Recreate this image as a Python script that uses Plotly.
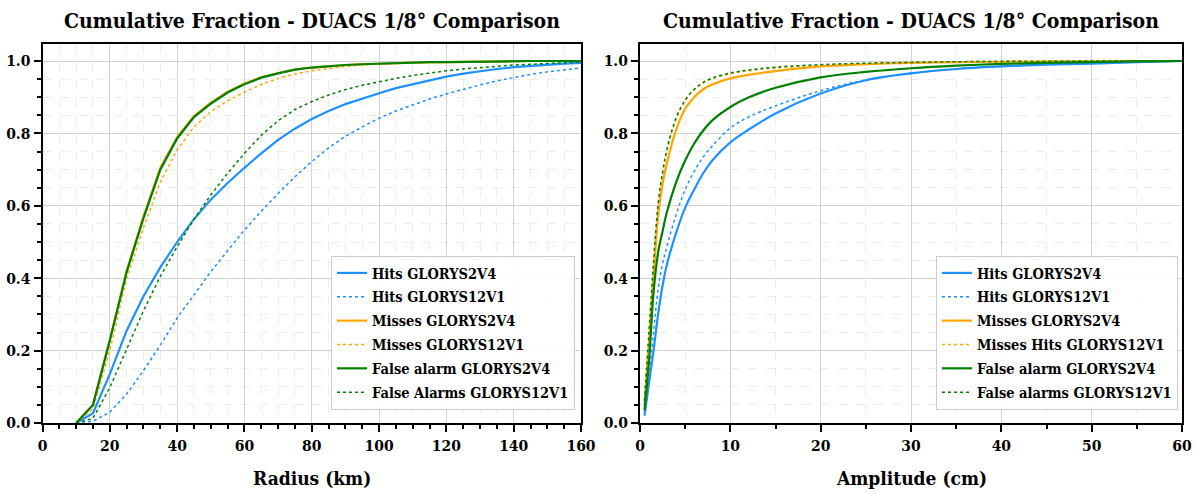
import plotly.graph_objects as go

# ---------------- Data: Radius (km) ----------------
radius = [10, 15, 20, 25, 30, 35, 40, 45, 50, 55, 60, 65, 70, 75, 80, 85, 90, 95, 100,
          105, 110, 115, 120, 125, 130, 135, 140, 145, 150, 155, 160]
r_hits_g2 = [0, 0.027, 0.135, 0.255, 0.35, 0.43, 0.50, 0.563, 0.617, 0.663, 0.705, 0.745, 0.782,
             0.813, 0.84, 0.862, 0.881, 0.897, 0.911, 0.925, 0.936, 0.947, 0.957, 0.965, 0.972,
             0.978, 0.983, 0.987, 0.990, 0.993, 0.995]
r_hits_g12 = [0, 0.005, 0.03, 0.08, 0.145, 0.215, 0.290, 0.355, 0.418, 0.476, 0.533, 0.585, 0.634,
              0.68, 0.722, 0.76, 0.792, 0.818, 0.842, 0.862, 0.879, 0.895, 0.909, 0.922, 0.934,
              0.945, 0.955, 0.963, 0.970, 0.976, 0.981]
r_miss_g2 = [0, 0.05, 0.23, 0.42, 0.57, 0.705, 0.79, 0.848, 0.885, 0.915, 0.938, 0.955, 0.967,
             0.976, 0.982, 0.986, 0.989, 0.991, 0.993, 0.995, 0.996, 0.997, 0.997, 0.998, 0.998,
             0.999, 0.999, 1.0, 1.0, 1.0, 1.0]
r_miss_g12 = [0, 0.04, 0.20, 0.40, 0.54, 0.665, 0.755, 0.818, 0.86, 0.89, 0.914, 0.935, 0.952,
              0.964, 0.973, 0.98, 0.985, 0.989, 0.992, 0.994, 0.995, 0.996, 0.997, 0.998, 0.998,
              0.999, 0.999, 1.0, 1.0, 1.0, 1.0]
r_fa_g2 = [0, 0.05, 0.228, 0.417, 0.566, 0.70, 0.786, 0.845, 0.882, 0.913, 0.936, 0.954, 0.966,
           0.976, 0.982, 0.986, 0.989, 0.991, 0.993, 0.995, 0.996, 0.997, 0.997, 0.998, 0.998,
           0.999, 0.999, 1.0, 1.0, 1.0, 1.0]
r_fa_g12 = [0, 0.013, 0.098, 0.205, 0.31, 0.405, 0.487, 0.563, 0.63, 0.69, 0.745, 0.795, 0.835,
            0.866, 0.888, 0.906, 0.921, 0.933, 0.943, 0.952, 0.96, 0.967, 0.973, 0.978, 0.982,
            0.986, 0.989, 0.991, 0.993, 0.995, 0.997]

# ---------------- Data: Amplitude (cm) ----------------
amp = [0.5, 1, 1.5, 2, 2.5, 3, 4, 5, 6, 7, 8, 10, 12, 15, 20, 25, 30, 35, 40, 45, 50, 55, 60]
a_hits_g2 = [0.02, 0.11, 0.20, 0.30, 0.38, 0.44, 0.525, 0.595, 0.645, 0.69, 0.725, 0.775, 0.81,
             0.855, 0.91, 0.947, 0.966, 0.978, 0.985, 0.990, 0.993, 0.997, 1.0]
a_hits_g12 = [0.03, 0.13, 0.25, 0.37, 0.44, 0.49, 0.575, 0.645, 0.695, 0.735, 0.765, 0.815, 0.845,
              0.876, 0.918, 0.948, 0.966, 0.978, 0.986, 0.991, 0.994, 0.997, 1.0]
a_miss_g2 = [0.05, 0.22, 0.40, 0.57, 0.66, 0.72, 0.81, 0.868, 0.9, 0.922, 0.935, 0.952, 0.962,
             0.972, 0.985, 0.991, 0.995, 0.997, 0.998, 0.999, 0.999, 1.0, 1.0]
a_miss_g12 = [0.06, 0.25, 0.44, 0.60, 0.69, 0.755, 0.84, 0.89, 0.92, 0.939, 0.951, 0.965, 0.973,
              0.981, 0.988, 0.993, 0.996, 0.997, 0.998, 0.999, 0.999, 1.0, 1.0]
a_fa_g2 = [0.035, 0.17, 0.36, 0.47, 0.53, 0.585, 0.665, 0.725, 0.772, 0.808, 0.836, 0.873, 0.899,
           0.926, 0.955, 0.97, 0.98, 0.987, 0.992, 0.995, 0.997, 0.999, 1.0]
a_fa_g12 = [0.062, 0.252, 0.443, 0.603, 0.693, 0.758, 0.843, 0.892, 0.922, 0.941, 0.953, 0.967,
            0.975, 0.983, 0.990, 0.994, 0.996, 0.998, 0.999, 0.999, 1.0, 1.0, 1.0]

left_names = ["Hits GLORYS2V4", "Hits GLORYS12V1", "Misses GLORYS2V4", "Misses GLORYS12V1",
              "False alarm GLORYS2V4", "False Alarms GLORYS12V1"]
right_names = ["Hits GLORYS2V4", "Hits GLORYS12V1", "Misses GLORYS2V4", "Misses Hits GLORYS12V1",
               "False alarm GLORYS2V4", "False alarms GLORYS12V1"]
title_text = "Cumulative Fraction - DUACS 1/8° Comparison"

BLUE, ORANGE, GREEN = "#1E90FF", "#FFA500", "#008000"
styles = [(BLUE, "solid", 2.2), (BLUE, "dot", 1.5), (ORANGE, "solid", 2.2), (ORANGE, "dot", 1.5),
          (GREEN, "solid", 2.2), (GREEN, "dot", 1.5)]

FONT = "DejaVu Serif Condensed, DejaVu Serif, serif"

fig = go.Figure()
left_series = [r_hits_g2, r_hits_g12, r_miss_g2, r_miss_g12, r_fa_g2, r_fa_g12]
right_series = [a_hits_g2, a_hits_g12, a_miss_g2, a_miss_g12, a_fa_g2, a_fa_g12]
for i, (ys, nm, (c, d, w)) in enumerate(zip(left_series, left_names, styles)):
    fig.add_trace(go.Scatter(x=radius, y=ys, name=nm, mode="lines",
                             line=dict(color=c, dash=d, width=w), xaxis="x", yaxis="y",
                             legend="legend", legendgroup=f"L{i}"))
for i, (ys, nm, (c, d, w)) in enumerate(zip(right_series, right_names, styles)):
    fig.add_trace(go.Scatter(x=amp, y=ys, name=nm, mode="lines", line_shape="spline",
                             line=dict(color=c, dash=d, width=w), xaxis="x2", yaxis="y2",
                             legend="legend2", legendgroup=f"R{i}"))

W, H = 1196, 493
ytop, ybot = 44, 423
ydom = [(H - ybot) / H, (H - ytop) / H]

def xax(dom, rng, dtick, mdtick):
    return dict(domain=dom, range=rng, dtick=dtick, tick0=0, automargin=False,
                showline=True, mirror=True, linecolor="black", linewidth=2,
                ticks="outside", ticklen=7, tickwidth=1.5, tickcolor="black",
                showgrid=True, gridcolor="#d3d3d3", gridwidth=1, zeroline=False,
                tickfont=dict(size=15.5, color="black"),
                minor=dict(dtick=mdtick, tick0=0, ticks="outside", ticklen=4, tickcolor="black",
                           showgrid=True, gridcolor="#ececec", griddash="dash", gridwidth=1))

def yax(anchor):
    return dict(domain=ydom, range=[0, 1.047], dtick=0.2, tick0=0, anchor=anchor,
                tickformat=".1f", automargin=False,
                showline=True, mirror=True, linecolor="black", linewidth=2,
                ticks="outside", ticklen=7, tickwidth=1.5, tickcolor="black",
                showgrid=True, gridcolor="#d3d3d3", gridwidth=1, zeroline=False,
                tickfont=dict(size=15.5, color="black"),
                minor=dict(dtick=0.05, tick0=0, ticks="outside", ticklen=4, tickcolor="black",
                           showgrid=True, gridcolor="#ececec", griddash="dash", gridwidth=1))

lx0, lx1 = 42.5 / W, 581 / W
rx0, rx1 = 640 / W, 1182 / W

legend_common = dict(bgcolor="rgba(255,255,255,0.9)", bordercolor="#cccccc", borderwidth=1,
                     font=dict(size=14.5, color="black"), xanchor="right", yanchor="bottom",
                     itemwidth=30, tracegroupgap=2)

def ann(text, x, ypx, size):
    return dict(text=text, x=x, y=1 - ypx / H, xref="paper", yref="paper", showarrow=False,
                font=dict(size=size, color="black"), xanchor="center", yanchor="middle")

fig.update_layout(
    width=W, height=H,
    margin=dict(l=0, r=0, t=0, b=0),
    paper_bgcolor="white", plot_bgcolor="white",
    font=dict(family=FONT, weight="bold", color="black"),
    xaxis=dict(**xax([lx0, lx1], [0, 160], 20, 5), anchor="y"),
    yaxis=yax("x"),
    xaxis2=dict(**xax([rx0, rx1], [0, 60], 10, 5), anchor="y2"),
    yaxis2=yax("x2"),
    legend=dict(x=575 / W, y=(H - 410) / H, **legend_common),
    legend2=dict(x=1178 / W, y=(H - 410) / H, **legend_common),
    annotations=[
        ann(title_text, (lx0 + lx1) / 2, 20, 21),
        ann(title_text, (rx0 + rx1) / 2, 20, 21),
        ann("Radius (km)", (lx0 + lx1) / 2, 478, 19),
        ann("Amplitude (cm)", (rx0 + rx1) / 2, 478, 19),
    ],
)

fig.write_html("out.html", config={"displayModeBar": False},
               post_script="document.body.style.margin='0';document.body.style.overflow='hidden';")
